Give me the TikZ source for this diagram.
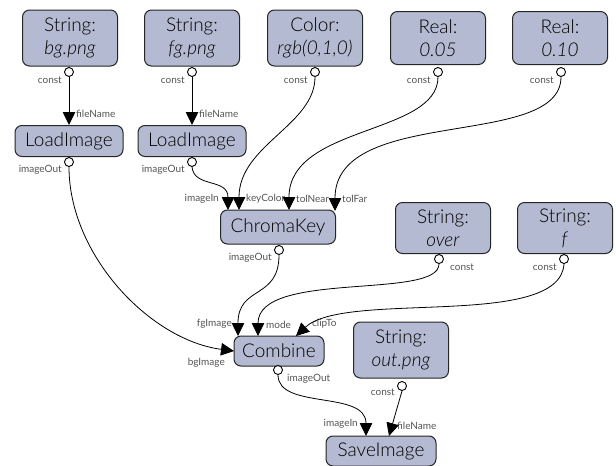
\documentclass[tikz,border=0pt]{standalone}
\usepackage{fontspec}
\setmainfont{Lato Light}[ItalicFont={Lato Light Italic}]
\newfontfamily\lblfont{Lato}
\usetikzlibrary{arrows.meta}
\definecolor{nodefill}{RGB}{180,186,209}
\definecolor{labelgray}{RGB}{85,85,85}
\begin{document}
\begin{tikzpicture}[x=1pt,y=-1pt,
  box/.style={draw=black!85, line width=1pt, fill=nodefill, rounded corners=7pt, align=center, font=\fontsize{19}{23}\selectfont, inner sep=0pt},
  val/.style={box, minimum width=95pt, minimum height=56pt},
  op/.style={box, minimum height=31pt},
  port/.style={circle, draw=black, fill=white, line width=0.9pt, minimum size=9pt, inner sep=0pt},
  lbl/.style={font=\lblfont\fontsize{10}{11}\selectfont, text=labelgray, inner sep=0pt},
  wire/.style={line width=0.8pt},
  edge/.style={wire, -{Triangle[width=12.5pt,length=13pt]}}
]
\useasboundingbox[fill=white] (0,0) rectangle (616,466);

% value nodes
\node[val] (sbg) at (70,38) {String:\\\textit{bg.png}};
\node[val] (sfg) at (192,38) {String:\\\textit{fg.png}};
\node[val] (col) at (315,38) {Color:\\\textit{rgb(0,1,0)}};
\node[val, minimum height=53pt] (rn) at (438,38) {Real:\\\textit{0.05}};
\node[val, minimum height=53pt] (rf) at (560,38) {Real:\\\textit{0.10}};
\node[val, minimum height=51pt] (sov) at (443,228) {String:\\\textit{over}};
\node[val, minimum height=51pt] (sf) at (565,228) {String:\\\textit{f}};
\node[val] (sout) at (401,350) {String:\\\textit{out.png}};

% operation nodes
\node[op, minimum width=108pt] (li1) at (69,141) {LoadImage};
\node[op, minimum width=108pt] (li2) at (192,141) {LoadImage};
\node[op, minimum width=115pt, minimum height=34pt] (ck) at (278,227) {ChromaKey};
\node[op, minimum width=90pt, minimum height=30pt] (cb) at (279,351) {Combine};
\node[op, minimum width=110pt, minimum height=30pt] (si) at (381,451) {SaveImage};

% output ports
\node[port] (sbg-o) at (69,72) {};
\node[port] (sfg-o) at (192,72) {};
\node[port] (col-o) at (315,72) {};
\node[port] (rn-o) at (438,72) {};
\node[port] (rf-o) at (561,72) {};
\node[port] (li1-o) at (69,162) {};
\node[port] (li2-o) at (192,162) {};
\node[port] (ck-o) at (279,250) {};
\node[port] (sov-o) at (439,259) {};
\node[port] (sf-o) at (564,259) {};
\node[port] (cb-o) at (278,370) {};
\node[port] (sout-o) at (402,386) {};

% input points
\coordinate (li1-fn) at (69,125);
\coordinate (li2-fn) at (192,125);
\coordinate (ck-in) at (228,210);
\coordinate (ck-kc) at (239,210);
\coordinate (ck-tn) at (289,210);
\coordinate (ck-tf) at (335,211);
\coordinate (cb-bg) at (234,351);
\coordinate (cb-fg) at (238,336);
\coordinate (cb-md) at (258,336);
\coordinate (cb-ct) at (296,336);
\coordinate (si-in) at (366,436);
\coordinate (si-fn) at (389,436);

% port labels
\node[lbl, anchor=east] (l1) at (62,80) {const};
\node[lbl, anchor=east] (l2) at (185,80) {const};
\node[lbl, anchor=east] (l3) at (308,80) {const};
\node[lbl, anchor=east] (l4) at (431,80) {const};
\node[lbl, anchor=east] (l5) at (554,80) {const};
\node[lbl, anchor=west] (l6) at (76,114) {fileName};
\node[lbl, anchor=west] (l7) at (199,114) {fileName};
\node[lbl, anchor=east] (l8) at (62,170) {imageOut};
\node[lbl, anchor=east] (l9) at (185,170) {imageOut};
\node[lbl, anchor=east] (l10) at (219,199) {imageIn};
\node[lbl, anchor=west] (l11) at (246,199) {keyColor};
\node[lbl, anchor=west] (l12) at (296,199) {tolNear};
\node[lbl, anchor=west] (l13) at (342,199) {tolFar};
\node[lbl, anchor=east] (l14) at (272,258) {imageOut};
\node[lbl, anchor=west] (l15) at (450,267) {const};
\node[lbl, anchor=east] (l16) at (557,267) {const};
\node[lbl, anchor=east] (l17) at (232,324) {fgImage};
\node[lbl, anchor=west] (l18) at (266,325) {mode};
\node[lbl, anchor=west] (l19) at (312,324) {clipTo};
\node[lbl, anchor=east] (l20) at (225,363) {bgImage};
\node[lbl, anchor=west] (l21) at (287,379) {imageOut};
\node[lbl, anchor=east] (l22) at (395,392) {const};
\node[lbl, anchor=east] (l23) at (358,424) {imageIn};
\node[lbl, anchor=west] (l24) at (397,426) {fileName};

% connectors
\draw[edge] (sbg-o) -- (li1-fn);
\draw[edge] (sfg-o) -- (li2-fn);
\draw[edge] (li1-o.south) .. controls (69,255) and (150,340) .. (cb-bg);
\draw[edge] (li2-o.south) .. controls (194,188) and (228,178) .. (ck-in);
\draw[edge] (col-o.south) .. controls (315,125) and (239,145) .. (ck-kc);
\draw[edge] (rn-o.south) .. controls (438,135) and (289,125) .. (ck-tn);
\draw[edge] (rf-o.south) .. controls (561,150) and (335,105) .. (ck-tf);
\draw[edge] (ck-o.south) .. controls (279,300) and (238,285) .. (cb-fg);
\draw[edge] (sov-o.south) .. controls (439,300) and (258,270) .. (cb-md);
\draw[edge] (sf-o.south) .. controls (560,330) and (345,290) .. (cb-ct);
\draw[edge] (cb-o.south) .. controls (278,410) and (366,390) .. (si-in);
\draw[edge] (sout-o.south) -- (si-fn);
\end{tikzpicture}
\end{document}
